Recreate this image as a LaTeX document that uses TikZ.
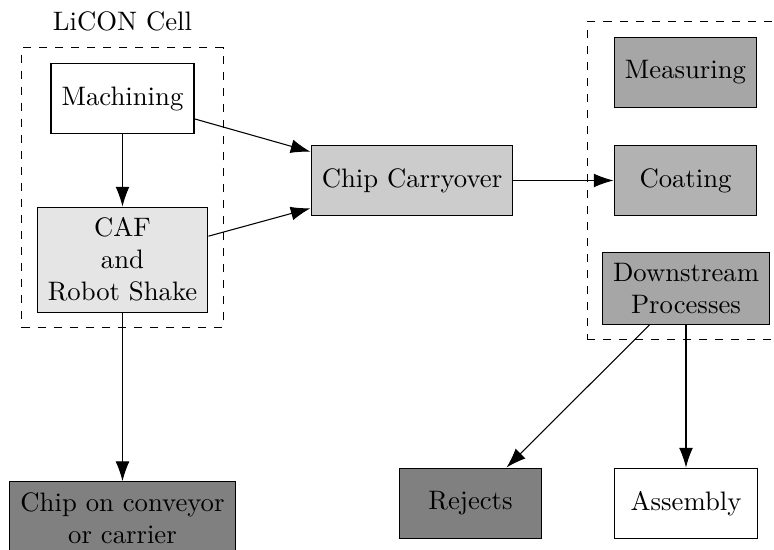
\documentclass[tikz,border=0pt]{standalone}
\usetikzlibrary{arrows.meta,fit}

\tikzset{
  stage/.style={draw, line width=0.4pt, align=center, inner xsep=4pt, inner ysep=4pt,
                minimum width=53.5pt, minimum height=26.5pt},
  flow/.style={-{Latex[length=7.4pt,width=5.2pt]}, line width=0.4pt},
  cellframe/.style={draw, dashed, line width=0.4pt, inner sep=5.5pt},
}

\begin{document}
\begin{tikzpicture}[x=0.3745pt, y=-0.3745pt]
  \useasboundingbox (0,0) rectangle (774,550);

  % LiCON cell stages
  \node[stage, fill=white]   (mach) at (122.5,98.5)  {Machining};
  \node[stage, fill=gray!20] (caf)  at (122.5,259.7) {CAF\\and\\Robot Shake};

  % transfer and downstream stations
  \node[stage, fill=gray!40] (carry) at (412,180.5)  {Chip Carryover};
  \node[stage, fill=gray!70] (meas)  at (685.5,72.5) {Measuring};
  \node[stage, fill=gray!60] (coat)  at (685.5,180.5){Coating};
  \node[stage, fill=gray!70] (down)  at (686,288.5)  {Downstream\\Processes};

  % outlets
  \node[stage, fill=gray] (conv)  at (122.5,518)  {Chip on conveyor\\or carrier};
  \node[stage, fill=gray] (rej)   at (470.5,503.5){Rejects};
  \node[stage, fill=white] (assy) at (686,503.5)  {Assembly};

  % dashed groupings
  \node[cellframe, fit=(mach)(caf)] (cell) {};
  \node[anchor=base] (celltitle) at ([yshift=6.4pt]cell.north) {LiCON Cell};
  \node[cellframe, fit=(meas)(coat)(down)] (line) {};

  % material flow
  \draw[flow] (mach) -- (caf);
  \draw[flow] (mach) -- (carry);
  \draw[flow] (caf) -- (carry);
  \draw[flow] (carry) -- (coat);
  \draw[flow] (caf) -- (conv);
  \draw[flow] (down) -- (rej);
  \draw[flow] (down) -- (assy);
\end{tikzpicture}
\end{document}
